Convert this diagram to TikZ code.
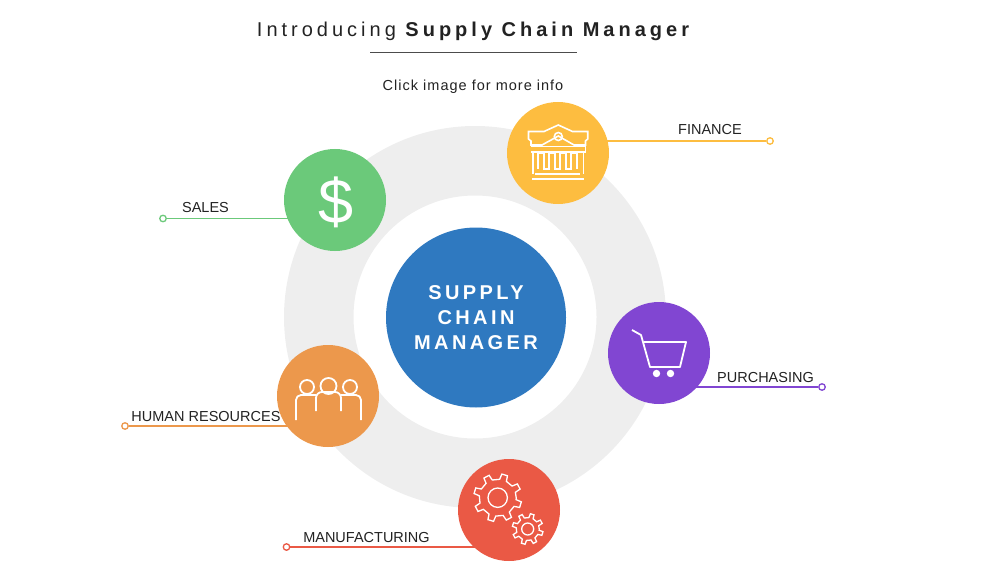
\documentclass[tikz,border=0pt]{standalone}
\usepackage{fontspec}
\setmainfont{Liberation Sans}
\pgfdeclarelayer{ringlayer}
\pgfdeclarelayer{linelayer}
\pgfsetlayers{ringlayer,linelayer,main}
\definecolor{cfin}{HTML}{FDBD40}
\definecolor{csal}{HTML}{6BC97A}
\definecolor{cpur}{HTML}{8146D2}
\definecolor{chr}{HTML}{EC984C}
\definecolor{cman}{HTML}{EA5945}
\definecolor{cblue}{HTML}{2F79C0}
\definecolor{cring}{HTML}{EEEEEE}
\definecolor{ctxt}{HTML}{222222}
\tikzset{
  hub/.style={circle,minimum size=102pt,inner sep=0pt,fill=#1},
  enddot/.style={circle,minimum size=6.5pt,inner sep=0pt,draw=#1,line width=1.3pt,fill=white},
  lab/.style={font=\fontsize{14.5}{16}\selectfont,text=ctxt,inner sep=0pt},
  icon/.style={draw=white,line width=1.6pt,line join=miter},
}
\newcommand{\gearpath}[5]{% cx cy outer root hole
  \draw[icon,line width=1.3pt] (#1,#2) ++(0:#4)
    \foreach \a in {0,45,...,315}{
      -- ($(#1,#2)+(\a+6:#4)$) -- ($(#1,#2)+(\a+10:#3)$) -- ($(#1,#2)+(\a+24:#3)$) -- ($(#1,#2)+(\a+28:#4)$)
    } -- cycle;
  \draw[icon,line width=1.3pt] (#1,#2) circle[radius=#5];
}
\usetikzlibrary{calc}
\begin{document}
\begin{tikzpicture}[x=1pt,y=-1pt]
\useasboundingbox (0,0) rectangle (1000,580);
\begin{pgfonlayer}{ringlayer}
  \fill[cring,even odd rule] (475,317) circle[radius=191] (475,317) circle[radius=121.5];
\end{pgfonlayer}

\node[font=\fontsize{20}{24}\selectfont,text=ctxt,inner sep=0pt,anchor=base] (title) at (473,37)
  {\addfontfeature{LetterSpace=20}Introducing {\bfseries Supply Chain Manager}};
\coordinate (ruleL) at (370,52);
\coordinate (ruleR) at (577,52);
\draw[black!70,line width=0.9pt] (ruleL) -- (ruleR);
\node[font=\fontsize{14.5}{18}\selectfont,text=ctxt,inner sep=0pt,anchor=base] (sub) at (473,91)
  {\addfontfeature{LetterSpace=7}Click image for more info};

\node[circle,minimum size=180pt,inner sep=0pt,fill=cblue,text=white,align=center,
  font=\fontsize{20}{25}\bfseries\selectfont] (core) at (476,317.5)
  {\addfontfeature{LetterSpace=17}SUPPLY\\\addfontfeature{LetterSpace=17}CHAIN\\\addfontfeature{LetterSpace=17}MANAGER};

\node[hub=cfin] (fin) at (558,153) {};
\node[hub=csal] (sal) at (335,200) {};
\node[hub=cpur] (pur) at (659,353) {};
\node[hub=chr]  (hr)  at (328,396) {};
\node[hub=cman] (man) at (509,510) {};

\node[enddot=cfin] (findot) at (770,141) {};
\node[enddot=csal] (saldot) at (163,218.5) {};
\node[enddot=cpur] (purdot) at (822,387) {};
\node[enddot=chr]  (hrdot)  at (125,426) {};
\node[enddot=cman] (mandot) at (286.5,547) {};

\begin{pgfonlayer}{linelayer}
  \draw[cfin,line width=1.8pt] (findot) -- (findot -| fin.center);
  \draw[csal,line width=1.8pt] (saldot) -- (saldot -| sal.center);
  \draw[cpur,line width=1.4pt] (purdot) -- (purdot -| pur.center);
  \draw[chr,line width=1.4pt] (hrdot) -- (hrdot -| hr.center);
  \draw[cman,line width=1.8pt] (mandot) -- (mandot -| man.center);
\end{pgfonlayer}

\node[lab,anchor=base] (finl) at (710,135) {FINANCE};
\node[lab,anchor=base] (sall) at (205.5,212.5) {SALES};
\node[lab,anchor=base] (purl) at (765.5,382) {PURCHASING};
\node[lab,anchor=base] (hrl)  at (206,421.5) {HUMAN RESOURCES};
\node[lab,anchor=base] (manl) at (366.5,542) {MANUFACTURING};

% finance icon
\draw[icon] (528.5,131.5) -- (544,131.5) -- (558.3,125) -- (572.5,131.5) -- (587.7,131.5) -- (587.7,139) -- (585.5,141) -- (585.5,145) -- (574,145) -- (558.3,136) -- (542,145) -- (531,145) -- (531,141) -- (528.5,139) -- cycle;
\draw[icon] (558.3,136.5) circle[radius=4];
\draw[icon] (531,146.5) -- (585.5,146.5) -- (585.5,152) -- (531,152);
\draw[icon] (533,152) -- (533,174) (583.5,152) -- (583.5,174);
\draw[icon] (538,169) -- (538,153) -- (544,153) -- (544,169) -- (549,169) -- (549,153) -- (555,153) -- (555,169) -- (560,169) -- (560,153) -- (566,153) -- (566,169) -- (571,169) -- (571,153) -- (577,153) -- (577,169);
\draw[icon] (535,174) -- (580,174);
\draw[icon] (532,179) -- (584,179);

% dollar
\node[text=white,font=\fontsize{63}{63}\selectfont,inner sep=0pt,anchor=center] (dollar) at (336,202) {\$};

% cart
\draw[icon,line width=1.8pt,line join=round] (632,330) -- (641,335) -- (650,367) -- (680,367) -- (686,342) -- (644,342);
\fill[white] (656.5,373.5) circle[radius=3.7] (670.5,373.5) circle[radius=3.7];

% people
\draw[icon,line width=1.8pt] (328.5,386) circle[radius=8];
\draw[icon,line width=1.8pt] (307,387) circle[radius=7];
\draw[icon,line width=1.8pt] (350,387) circle[radius=7];
\draw[icon,line width=1.8pt,line join=round] (316,411) -- (316,398) arc[start angle=180,end angle=270,radius=6] -- (335,392) arc[start angle=270,end angle=360,radius=6] -- (341,411);
\draw[icon,line width=1.8pt,line join=round] (296,420) -- (296,400) arc[start angle=180,end angle=270,radius=5] -- (316,395);
\draw[icon,line width=1.8pt,line join=round] (361,420) -- (361,400) arc[start angle=360,end angle=270,radius=5] -- (341,395);

% gears
\gearpath{497.7}{497.7}{24}{18.5}{9.7}
\gearpath{527.7}{529}{15.5}{11.5}{6}
\end{tikzpicture}
\end{document}
